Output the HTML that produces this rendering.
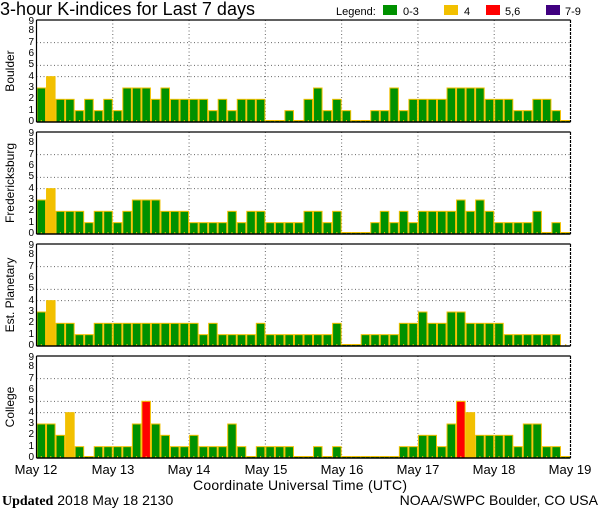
<!DOCTYPE html>
<html><head><meta charset="utf-8"><style>
body{margin:0;background:#fff;width:600px;height:510px;overflow:hidden}
svg{display:block;font-family:"Liberation Sans",sans-serif}
</style></head><body>
<svg id="s" width="600" height="510" viewBox="0 0 600 510">
<text x="0" y="15" font-size="18" textLength="255">3-hour K-indices for Last 7 days</text>
<text x="336" y="15" font-size="11">Legend:</text>
<rect x="383" y="5" width="14" height="10" fill="#009100"/><text x="403" y="15" font-size="11">0-3</text>
<rect x="444" y="5" width="14" height="10" fill="#f2c000"/><text x="464" y="15" font-size="11">4</text>
<rect x="486" y="5" width="14" height="10" fill="#ff0000"/><text x="505" y="15" font-size="11">5,6</text>
<rect x="546" y="5" width="14" height="10" fill="#400080"/><text x="565" y="15" font-size="11">7-9</text>
<g font-size="12" text-anchor="middle">
<text transform="translate(14,71) rotate(-90)">Boulder</text>
<text transform="translate(14,183) rotate(-90)">Fredericksburg</text>
<text transform="translate(14,295) rotate(-90)">Est. Planetary</text>
<text transform="translate(14,407) rotate(-90)">College</text>
</g>
<g font-size="10" text-anchor="end" id="yl">
<text x="34" y="124">0</text><text x="34" y="113">1</text><text x="34" y="101">2</text><text x="34" y="90">3</text><text x="34" y="79">4</text><text x="34" y="67">5</text><text x="34" y="56">6</text><text x="34" y="45">7</text><text x="34" y="33">8</text><text x="34" y="24">9</text>
<text x="34" y="236">0</text><text x="34" y="225">1</text><text x="34" y="213">2</text><text x="34" y="202">3</text><text x="34" y="191">4</text><text x="34" y="179">5</text><text x="34" y="168">6</text><text x="34" y="157">7</text><text x="34" y="145">8</text><text x="34" y="136">9</text>
<text x="34" y="348">0</text><text x="34" y="337">1</text><text x="34" y="325">2</text><text x="34" y="314">3</text><text x="34" y="303">4</text><text x="34" y="291">5</text><text x="34" y="280">6</text><text x="34" y="269">7</text><text x="34" y="257">8</text><text x="34" y="248">9</text>
<text x="34" y="460">0</text><text x="34" y="449">1</text><text x="34" y="437">2</text><text x="34" y="426">3</text><text x="34" y="415">4</text><text x="34" y="403">5</text><text x="34" y="392">6</text><text x="34" y="381">7</text><text x="34" y="369">8</text><text x="34" y="360">9</text>
</g>
<g font-size="13" text-anchor="middle">
<text x="36" y="474">May 12</text><text x="113" y="474">May 13</text><text x="189" y="474">May 14</text><text x="266" y="474">May 15</text><text x="342" y="474">May 16</text><text x="418" y="474">May 17</text><text x="494" y="474">May 18</text><text x="570" y="474">May 19</text>
<text x="300" y="490" font-size="14" textLength="214">Coordinate Universal Time (UTC)</text>
</g>
<text x="2" y="505" font-size="14"><tspan font-weight="bold" font-family="Liberation Serif,serif">Updated</tspan> 2018 May 18 2130</text>
<text x="598" y="505" font-size="14" text-anchor="end">NOAA/SWPC Boulder, CO USA</text>
</svg>
<script>
var D=[
[3,4,2,2,1,2,1,2,1,3,3,3,2,3,2,2,2,2,1,2,1,2,2,2,0,0,1,0,2,3,1,2,1,0,0,1,1,3,1,2,2,2,2,3,3,3,3,2,2,2,1,1,2,2,1,0],
[3,4,2,2,2,1,2,2,1,2,3,3,3,2,2,2,1,1,1,1,2,1,2,2,1,1,1,1,2,2,1,2,0,0,0,1,2,1,2,1,2,2,2,2,3,2,3,2,1,1,1,1,2,0,1,0],
[3,4,2,2,1,1,2,2,2,2,2,2,2,2,2,2,2,1,2,1,1,1,1,2,1,1,1,1,1,1,1,2,0,0,1,1,1,1,2,2,3,2,2,3,3,2,2,2,2,1,1,1,1,1,1,-1],
[3,3,2,4,1,0,1,1,1,1,3,5,3,2,1,1,2,1,1,1,3,1,0,1,1,1,1,0,0,1,0,1,0,0,0,0,0,0,1,1,2,2,1,3,5,4,2,2,2,2,1,3,3,1,1,0]];
var tops=[20,132,244,356],H=102,L=36.5,R=570.5,W=(R-L)/56,u=H/9;
var s='';
tops.forEach(function(t,p){
 var b=t+H;
 [4,5,7].forEach(function(v){var y=b-v*u;s+='<line x1="'+L+'" x2="'+R+'" y1="'+y+'" y2="'+y+'" stroke="#666" stroke-dasharray="1,2.5"/>';});
 for(var d=1;d<7;d++){var x=L+d*8*W;s+='<line x1="'+x+'" x2="'+x+'" y1="'+t+'" y2="'+b+'" stroke="#666" stroke-dasharray="1,2.5"/>';}
 D[p].forEach(function(v,i){
  if(v<0)return;var x=L+i*W,h=Math.max(v*u,1.5);
  var c=v<=3?'#009100':v==4?'#f2c000':v<=6?'#ff0000':'#400080';
  s+='<rect x="'+(x+0.5)+'" y="'+(b-h)+'" width="'+(W-1)+'" height="'+h+'" fill="'+c+'" stroke="#f2c000" stroke-width="1"/>';
 });
 for(var i=0;i<56;i++){var x=L+i*W+W/2;s+='<line x1="'+x+'" x2="'+x+'" y1="'+b+'" y2="'+(b-2)+'" stroke="#f2c000"/>';}
 s+='<line x1="'+L+'" x2="'+L+'" y1="'+t+'" y2="'+b+'" stroke="#000" stroke-width="1.2"/>';
 s+='<line x1="'+L+'" x2="'+R+'" y1="'+t+'" y2="'+t+'" stroke="#000" stroke-width="1.2"/>';
 s+='<line x1="'+L+'" x2="'+R+'" y1="'+b+'" y2="'+b+'" stroke="#000" stroke-width="1.5"/>';
 s+='<line x1="'+R+'" x2="'+R+'" y1="'+t+'" y2="'+b+'" stroke="#000" stroke-width="1.2" stroke-dasharray="3,1"/>';
});
var g=document.createElementNS('http://www.w3.org/2000/svg','g');g.innerHTML=s;
document.getElementById('s').insertBefore(g,document.getElementById('yl'));
</script>
</body></html>
